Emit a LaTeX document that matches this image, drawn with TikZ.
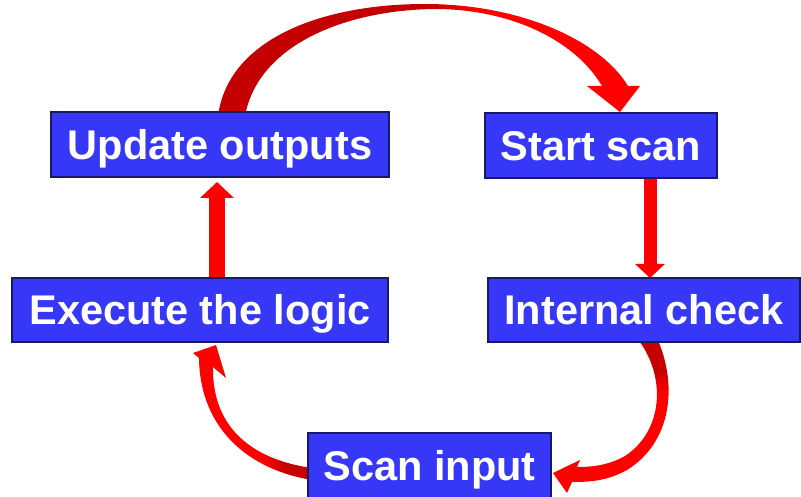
\documentclass[tikz,border=0pt]{standalone}
\usepackage{fontspec}
\setmainfont{Liberation Sans}
\usetikzlibrary{arrows.meta,calc,backgrounds}

\definecolor{boxblue}{RGB}{55,55,248}
\definecolor{boxline}{RGB}{25,25,100}
\definecolor{arrowred}{RGB}{255,0,0}
\definecolor{arrowdark}{RGB}{196,0,0}

% shadings for the curved arrows: darker where each arrow leaves its box
\pgfdeclarehorizontalshading{topshade}{100bp}{color(0bp)=(arrowdark); color(50bp)=(arrowdark); color(56bp)=(arrowred); color(100bp)=(arrowred)}
\pgfdeclareverticalshading{rightshade}{100bp}{color(0bp)=(arrowred); color(57bp)=(arrowred); color(65bp)=(arrowdark); color(100bp)=(arrowdark)}
\pgfdeclarehorizontalshading{leftshade}{100bp}{color(0bp)=(arrowred); color(55bp)=(arrowred); color(64bp)=(arrowdark); color(100bp)=(arrowdark)}

\begin{document}
\begin{tikzpicture}[x=1pt,y=-1pt,
  stage/.style={draw=boxline, line width=1.2pt, fill=boxblue, text=white,
    inner sep=0pt, outer sep=0pt,
    font=\fontsize{41.5}{48}\selectfont\bfseries,
    text height=29.7pt, text depth=0pt, minimum height=65pt},
  straight/.style={draw=arrowred}]
\useasboundingbox (0,0) rectangle (801,497);

% the five stages of the scan cycle
\node[stage, minimum width=338pt] (upd) at (220,144.5) {Update outputs};
\node[stage, minimum width=232pt] (sta) at (601,145.5) {Start scan};
\node[stage, minimum width=376pt, minimum height=64pt] (exe) at (200,310) {Execute the logic};
\node[stage, minimum width=312pt, minimum height=64pt] (int) at (644,310) {Internal check};
\node[stage, minimum width=243pt] (scn) at (429.5,465.5) {Scan input};

\begin{scope}[on background layer]
  \fill[white] (0,0) rectangle (801,497);

  % Update outputs -> Start scan (wide arc over the top)
  \shade[shading=topshade]
    ($(upd.north)+(-2,4)$) .. controls (228,40) and (320,4) .. (425,4)
    .. controls (520,4) and (600,40) .. ($(sta.north)+(27,-27)$)
    -- ($(sta.north)+(39,-27)$) -- ($(sta.north)+(19,-1)$) -- ($(sta.north)+(-14,-27)$)
    -- ($(sta.north)+(1,-27)$) .. controls (575,40) and (510,9) .. (435,9)
    .. controls (345,10) and (258,45) .. ($(upd.north)+(25,4)$) -- cycle;

  % Start scan -> Internal check
  \draw[straight, line width=13pt, -{Triangle[width=29pt,length=14pt]}]
    ($(sta.south)+(49,0)$) -- ($(int.north)+(6,0)$);

  % Internal check -> Scan input
  \shade[shading=rightshade]
    ($(int.south)+(13,-4)$) .. controls (678,385) and (672,442) .. (627,470)
    .. controls (607,481) and (590,482) .. ($(scn.east)+(21,16.5)$)
    -- ($(scn.east)+(16,27.5)$) -- ($(scn.east)+(2,7.5)$) -- ($(scn.east)+(29,-5.5)$)
    -- ($(scn.east)+(26,1.5)$) .. controls (590,467) and (607,466) .. (625,456)
    .. controls (662,432) and (668,378) .. ($(int.south)+(-7,-4)$) -- cycle;

  % Scan input -> Execute the logic
  \shade[shading=leftshade]
    ($(scn.west)+(4,14.5)$) .. controls (250,470) and (200,430) .. ($(exe.south)+(-1,16)$)
    -- ($(exe.south)+(-7,11)$) -- ($(exe.south)+(16,3)$) -- ($(exe.south)+(26,36)$)
    -- ($(exe.south)+(13,25)$) .. controls (212,430) and (255,460) .. ($(scn.west)+(4,2.5)$) -- cycle;

  % Execute the logic -> Update outputs
  \draw[straight, line width=16.5pt, -{Triangle[width=33pt,length=16pt]}]
    ($(exe.north)+(17,0)$) -- ($(upd.south)+(-3,5)$);
\end{scope}
\end{tikzpicture}
\end{document}
